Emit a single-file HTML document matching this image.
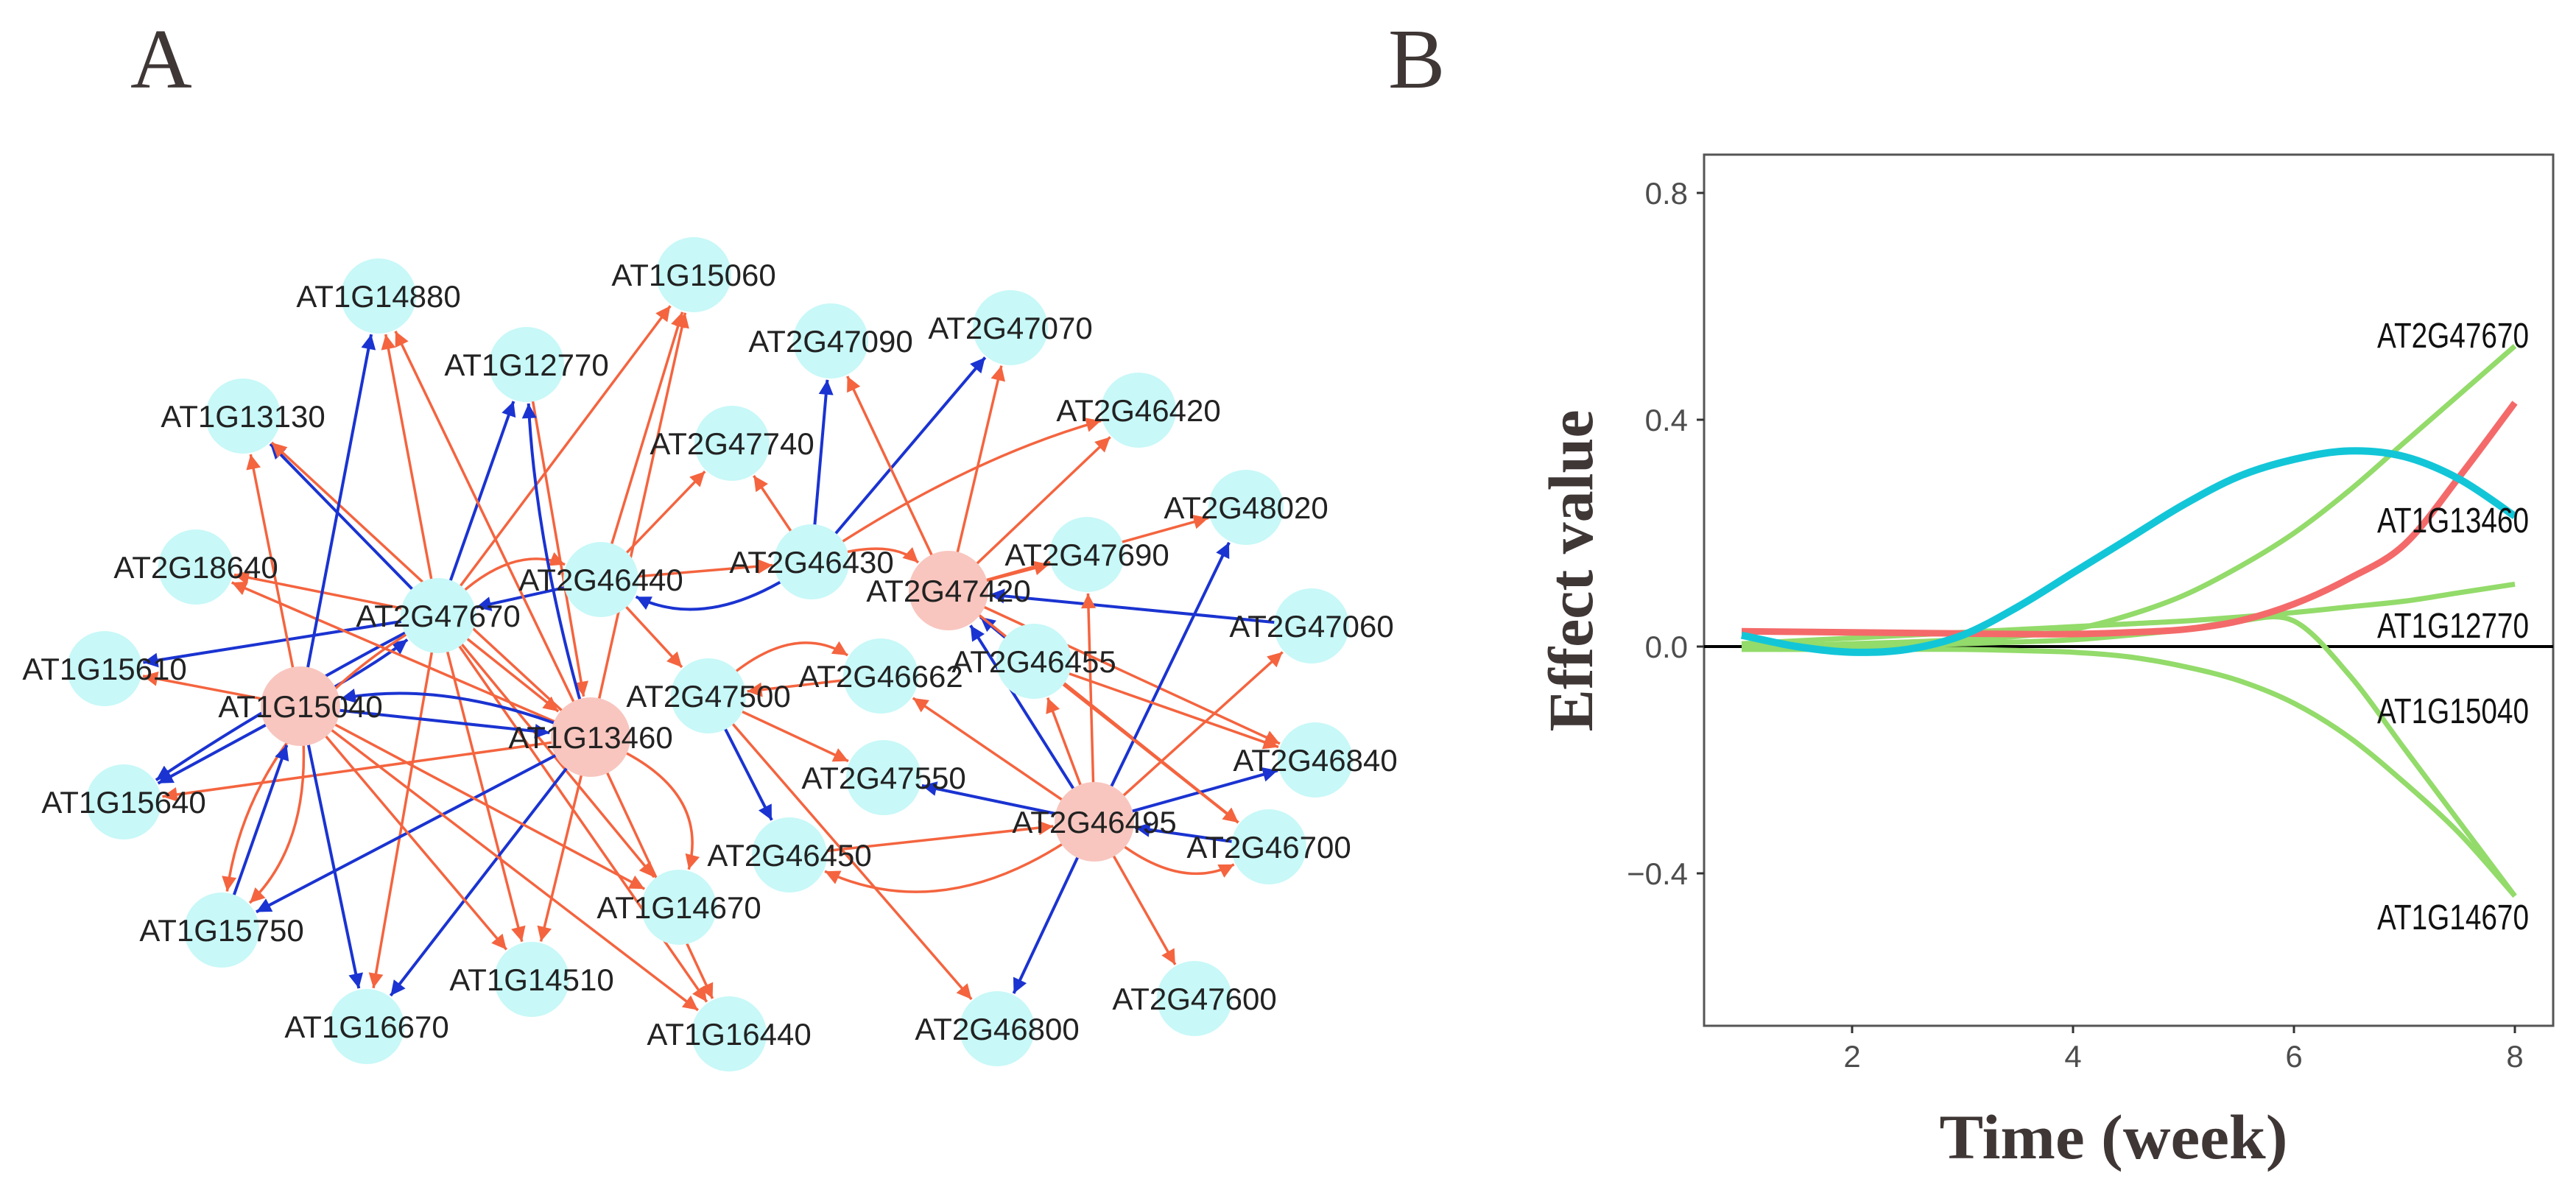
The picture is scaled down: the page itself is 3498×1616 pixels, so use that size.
<!DOCTYPE html>
<html><head><meta charset="utf-8">
<style>
html,body{margin:0;padding:0;background:#fff;}
svg{display:block;}
</style></head>
<body>
<svg id="fig" width="3498" height="1616" viewBox="0 0 3498 1616" xmlns="http://www.w3.org/2000/svg">
<defs>
<marker id="arrO" viewBox="0 0 10 10" refX="10" refY="5" markerWidth="26" markerHeight="20" markerUnits="userSpaceOnUse" orient="auto"><path d="M0,0 L10,5 L0,10 z" fill="#f4643f"/></marker>
<marker id="arrB" viewBox="0 0 10 10" refX="10" refY="5" markerWidth="26" markerHeight="20" markerUnits="userSpaceOnUse" orient="auto"><path d="M0,0 L10,5 L0,10 z" fill="#1a33d1"/></marker>
</defs>
<text x="177" y="119" font-family="Liberation Serif, serif" font-size="116" fill="#3f3636">A</text>
<text x="1885" y="119" font-family="Liberation Serif, serif" font-size="116" fill="#3f3636">B</text>
<g id="edges"></g>
<g id="nodes"></g>
<g id="chartB"></g>
</svg>
<script>
const NS="http://www.w3.org/2000/svg";
// ---------- Panel A network ----------
const nodeNames=["AT1G14880","AT1G15060","AT1G12770","AT2G47090","AT2G47070","AT1G13130","AT2G47740","AT2G46420","AT2G48020","AT2G18640","AT2G46440","AT2G46430","AT2G47420","AT2G47690","AT2G47670","AT2G47060","AT1G15610","AT1G15040","AT2G47500","AT2G46662","AT2G46455","AT1G13460","AT1G15640","AT2G47550","AT2G46840","AT2G46495","AT2G46450","AT2G46700","AT1G14670","AT1G15750","AT1G14510","AT1G16670","AT1G16440","AT2G46800","AT2G47600"];
const nodeX=[514,942,715,1128,1372,330,994,1546,1692,266,816,1102,1288,1476,595,1781,142,408,962,1196,1404,802,168,1200,1786,1486,1072,1723,922,301,722,498,990,1354,1622];
const nodeY=[402,373,495,463,445,565,602,557,689,770,787,763,802,753,836,850,908,959,945,918,898,1001,1089,1056,1032,1116,1161,1150,1232,1263,1330,1394,1404,1397,1356];
const hubs=["AT2G47420","AT1G15040","AT1G13460","AT2G46495"];
const edgeSrc=["AT2G47670","AT2G47670","AT2G47670","AT2G47670","AT2G47670","AT2G47670","AT1G15040","AT2G47670","AT2G47670","AT2G47670","AT2G47670","AT2G47670","AT2G47670","AT2G47670","AT2G47670","AT2G46440",
"AT1G13460","AT1G13460","AT1G13460","AT1G13460","AT1G13460","AT1G15040","AT1G13460","AT1G13460","AT1G13460","AT2G46440","AT1G13460","AT1G13460","AT1G13460","AT1G12770","AT1G13460","AT2G46440","AT2G46440","AT2G46440","AT2G46440","AT2G46430",
"AT1G15040","AT1G15040","AT1G15040","AT1G15040","AT1G15040","AT1G15750","AT1G15040","AT1G15040","AT1G15040","AT1G15040",
"AT2G46430","AT2G46430","AT2G46430","AT2G46430","AT2G46430",
"AT2G47420","AT2G47420","AT2G47420","AT2G47420","AT2G47420","AT2G47420","AT2G47060","AT2G46455","AT2G47420",
"AT2G46495","AT2G46495","AT2G46495","AT2G46495","AT2G46495","AT2G46495","AT2G46495","AT2G46495","AT2G46700","AT2G46495","AT2G46495","AT2G46495","AT2G46495","AT2G46450",
"AT2G47500","AT2G46662","AT2G47500","AT2G47500","AT2G47500","AT2G46455","AT2G46455"];
const edgeTgt=["AT1G14880","AT1G12770","AT1G13130","AT1G15060","AT2G18640","AT1G15610","AT2G47670","AT1G15640","AT1G16670","AT1G14510","AT1G16440","AT1G13460","AT1G14670","AT1G15750","AT2G46440","AT2G47670",
"AT1G14880","AT1G13130","AT2G18640","AT1G15640","AT1G15040","AT1G13460","AT1G15750","AT1G16670","AT1G14510","AT2G46440","AT1G16440","AT1G14670","AT1G15060","AT1G13460","AT1G12770","AT2G47740","AT1G15060","AT2G47500","AT2G46430","AT2G46440",
"AT1G13130","AT1G14880","AT1G15610","AT1G16670","AT1G15750","AT1G15040","AT1G14510","AT1G16440","AT1G14670","AT1G15640",
"AT2G47090","AT2G47070","AT2G47740","AT2G46420","AT2G47420",
"AT2G47090","AT2G47070","AT2G46420","AT2G47690","AT2G48020","AT2G46840","AT2G47420","AT2G47420","AT2G46700",
"AT2G47420","AT2G48020","AT2G47060","AT2G47690","AT2G46455","AT2G46662","AT2G47550","AT2G46840","AT2G46495","AT2G46700","AT2G46800","AT2G47600","AT2G46450","AT2G46495",
"AT2G46662","AT2G47500","AT2G47550","AT2G46450","AT2G46800","AT2G46840","AT2G46700"];
const edgeType=["o","b","b","o","o","b","b","b","o","o","o","o","o","o","o","b",
"o","o","o","o","b","b","b","b","o","o","o","o","o","o","b","o","o","o","o","b",
"o","b","o","b","o","b","o","o","o","b",
"b","b","o","o","o",
"o","o","o","o","o","o","b","b","o",
"b","b","o","o","o","o","b","b","b","o","b","o","o","o",
"o","o","o","b","o","o","o"];
const edgeCurve=[0,0,0,0,0,0,0.04,0.03,0,0,0,0,0,0.25,-0.35,0,
0,0,0,0,0.15,0,0,0,0,0,0,-0.45,0,0,-0.06,0,0,0,0,-0.3,
0,0,0,0,-0.25,0,0,0,0,0,
0,0,0,-0.08,-0.3,
0,0,0,0,0,0,0,0,0,
0,0,0,0,0,0,0,0,0,0.35,0,0,-0.3,0,
-0.4,0,0,0,0,0,0];

const eg=document.getElementById('edges');
function idx(n){return nodeNames.indexOf(n);}
for(let i=0;i<edgeSrc.length;i++){
  const a=idx(edgeSrc[i]), b=idx(edgeTgt[i]);
  const x1=nodeX[a],y1=nodeY[a],x2=nodeX[b],y2=nodeY[b];
  const dx=x2-x1,dy=y2-y1;
  const c=edgeCurve[i];
  const mx=(x1+x2)/2 - dy*c, my=(y1+y2)/2 + dx*c;
  const rt=(hubs.includes(edgeTgt[i])?54:51)+2;
  let tx=x2-mx, ty=y2-my; const tl=Math.hypot(tx,ty);
  const ex=x2-tx/tl*rt, ey=y2-ty/tl*rt;
  const p=document.createElementNS(NS,'path');
  p.setAttribute('d',`M${x1},${y1} Q${mx},${my} ${ex},${ey}`);
  p.setAttribute('fill','none');
  p.setAttribute('stroke',edgeType[i]==='o'?'#f4643f':'#1a33d1');
  p.setAttribute('stroke-width',edgeType[i]==='o'?3.5:4);
  p.setAttribute('marker-end',edgeType[i]==='o'?'url(#arrO)':'url(#arrB)');
  
  
  eg.appendChild(p);
}
const ng=document.getElementById('nodes');
for(let i=0;i<nodeNames.length;i++){
  const hub=hubs.includes(nodeNames[i]);
  const c=document.createElementNS(NS,'circle');
  c.setAttribute('cx',nodeX[i]);c.setAttribute('cy',nodeY[i]);
  c.setAttribute('r',hub?54:51);
  c.setAttribute('fill',hub?'#f8c6bf':'#c8f8f8');
  
  
  ng.insertBefore(c,ng.firstChild);
}
for(let i=0;i<nodeNames.length;i++){
  const t=document.createElementNS(NS,'text');
  t.setAttribute('x',nodeX[i]);t.setAttribute('y',nodeY[i]+15);
  t.setAttribute('text-anchor','middle');
  t.setAttribute('font-family','Liberation Sans, sans-serif');
  t.setAttribute('font-size','42');
  t.setAttribute('fill','#222');
  t.textContent=nodeNames[i];
  
  
  ng.appendChild(t);
}

// ---------- Panel B chart ----------
const times=[1,1.5,2,2.5,3,3.5,4,4.5,5,5.5,6,6.5,7,7.5,8];
const cyanVals=[0.02,0.0,-0.01,-0.005,0.02,0.07,0.13,0.19,0.25,0.30,0.33,0.345,0.335,0.295,0.23];
const redVals=[0.027,0.026,0.025,0.024,0.023,0.022,0.022,0.025,0.03,0.045,0.075,0.12,0.18,0.3,0.43];
const g47670Vals=[0.0,0.002,0.005,0.008,0.012,0.018,0.03,0.055,0.09,0.14,0.2,0.275,0.36,0.445,0.53];
const g12770Vals=[0.005,0.01,0.015,0.02,0.025,0.03,0.035,0.04,0.045,0.052,0.06,0.07,0.08,0.095,0.11];
const g14670Vals=[0.0,0.0,0.0,0.002,0.005,0.008,0.012,0.02,0.03,0.045,0.045,-0.05,-0.18,-0.31,-0.44];
const g15040Vals=[-0.005,-0.005,-0.005,-0.005,-0.005,-0.007,-0.01,-0.018,-0.035,-0.06,-0.1,-0.16,-0.24,-0.33,-0.44];
const yTicks=[0.8,0.4,0.0,-0.4];
const yTickLabels=["0.8","0.4","0.0","\u22120.4"];
const xTicks=[2,4,6,8];
const endLabels=["AT2G47670","AT1G13460","AT1G12770","AT1G15040","AT1G14670"];
const endLabelY=[472,723,866,982,1262];

const box={l:2314,r:3467,t:210,b:1393};
const X=t=>2365+(t-1)*150;
const Y=v=>878-v*770;
const cg=document.getElementById('chartB');
function el(tag,attrs,name,text){
  const e=document.createElementNS(NS,tag);
  for(const k in attrs)e.setAttribute(k,attrs[k]);
  if(text!==undefined)e.textContent=text;
  
  
  cg.appendChild(e);return e;
}
el('rect',{x:box.l,y:box.t,width:box.r-box.l,height:box.b-box.t,fill:'none',stroke:'#555','stroke-width':3},'plot-frame');
yTicks.forEach((v,i)=>{
  el('line',{x1:box.l-10,x2:box.l,y1:Y(v),y2:Y(v),stroke:'#333','stroke-width':3},'y-tick');
  el('text',{x:2292,y:Y(v)+15,'text-anchor':'end','font-family':'Liberation Sans, sans-serif','font-size':42,fill:'#4d4d4d'},'y-tick-label',yTickLabels[i]);
});
xTicks.forEach(t=>{
  el('line',{x1:X(t),x2:X(t),y1:box.b,y2:box.b+10,stroke:'#333','stroke-width':3},'x-tick');
  el('text',{x:X(t),y:1449,'text-anchor':'middle','font-family':'Liberation Sans, sans-serif','font-size':42,fill:'#4d4d4d'},'x-tick-label',String(t));
});
el('line',{x1:box.l,x2:box.r,y1:Y(0),y2:Y(0),stroke:'#000','stroke-width':4},'zero-line');
function smooth(vals){
  const pts=times.map((t,i)=>[X(t),Y(vals[i])]);
  let d=`M${pts[0][0]},${pts[0][1]}`;
  for(let i=0;i<pts.length-1;i++){
    const p0=pts[Math.max(0,i-1)],p1=pts[i],p2=pts[i+1],p3=pts[Math.min(pts.length-1,i+2)];
    const c1=[p1[0]+(p2[0]-p0[0])/6,p1[1]+(p2[1]-p0[1])/6];
    const c2=[p2[0]-(p3[0]-p1[0])/6,p2[1]-(p3[1]-p1[1])/6];
    d+=` C${c1[0]},${c1[1]} ${c2[0]},${c2[1]} ${p2[0]},${p2[1]}`;
  }
  return d;
}
const greenC='#93db6a';
el('path',{d:smooth(g47670Vals),fill:'none',stroke:greenC,'stroke-width':7},'line-at2g47670');
el('path',{d:smooth(g12770Vals),fill:'none',stroke:greenC,'stroke-width':7},'line-at1g12770');
el('path',{d:smooth(g14670Vals),fill:'none',stroke:greenC,'stroke-width':7},'line-at1g14670');
el('path',{d:smooth(g15040Vals),fill:'none',stroke:greenC,'stroke-width':7},'line-at1g15040');
el('path',{d:smooth(redVals),fill:'none',stroke:'#f46a6a','stroke-width':9},'line-at1g13460');
el('path',{d:smooth(cyanVals),fill:'none',stroke:'#12c6d8','stroke-width':10},'line-cyan');
endLabels.forEach((s,i)=>{
  el('text',{x:3434,y:endLabelY[i],'text-anchor':'end','font-family':'Liberation Sans, sans-serif','font-size':48,textLength:206,lengthAdjust:'spacingAndGlyphs',fill:'#111'},'end-label',s);
});
el('text',{x:0,y:0,transform:'translate(2162,775) rotate(-90)','text-anchor':'middle','font-family':'Liberation Serif, serif','font-size':86,'font-weight':'bold',fill:'#3f3636',textLength:437,lengthAdjust:'spacingAndGlyphs'},'y-axis-title','Effect value');
el('text',{x:2870,y:1573,'text-anchor':'middle','font-family':'Liberation Serif, serif','font-size':86,'font-weight':'bold',fill:'#3f3636',textLength:473,lengthAdjust:'spacingAndGlyphs'},'x-axis-title','Time (week)');
</script>
</body></html>
